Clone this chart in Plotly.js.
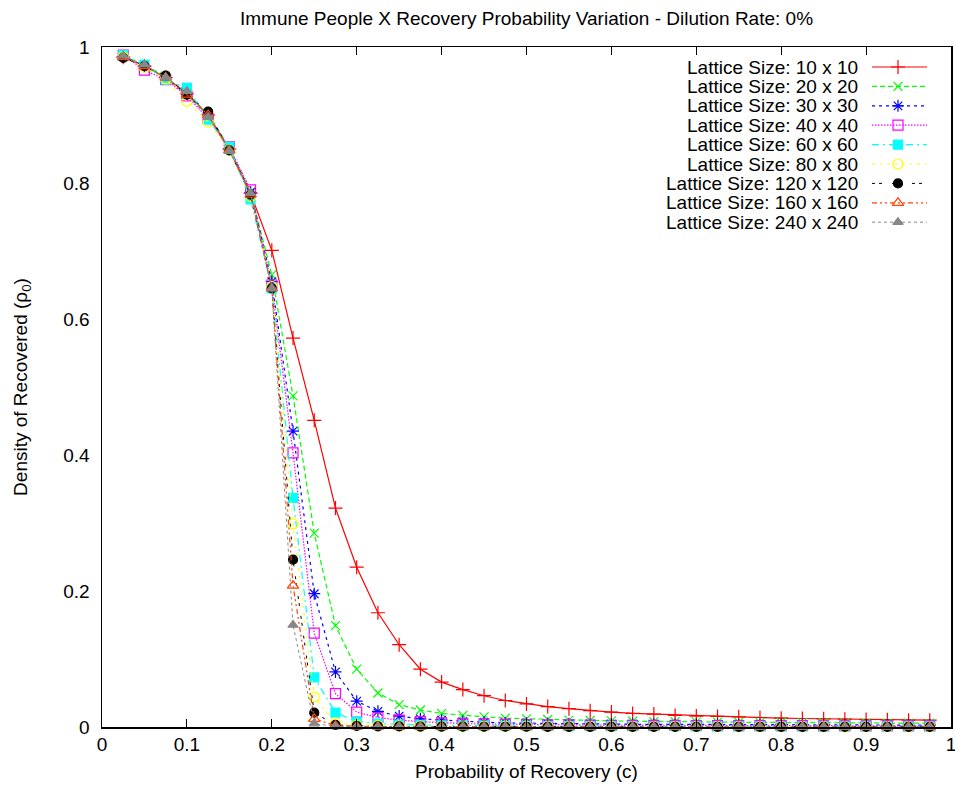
<!DOCTYPE html>
<html>
<head>
<meta charset="utf-8">
<script src="https://cdn.plot.ly/plotly-3.0.1.min.js"></script>
<style>html,body{margin:0;padding:0;background:#fff;}#chart{width:955px;height:789px;}</style>
</head>
<body>
<div id="chart"></div>
<script>
// ---- Data ----
const recoveryProb = [0.025,0.05,0.075,0.1,0.125,0.15,0.175,0.2,0.225,0.25,0.275,0.3,0.325,0.35,0.375,0.4,0.425,0.45,0.475,0.5,0.525,0.55,0.575,0.6,0.625,0.65,0.675,0.7,0.725,0.75,0.775,0.8,0.825,0.85,0.875,0.9,0.925,0.95,0.975];

const seriesNames = ["Lattice Size: 10 x 10","Lattice Size: 20 x 20","Lattice Size: 30 x 30","Lattice Size: 40 x 40","Lattice Size: 60 x 60","Lattice Size: 80 x 80","Lattice Size: 120 x 120","Lattice Size: 160 x 160","Lattice Size: 240 x 240"];

const lattice10 = [0.985,0.972,0.955,0.932,0.900,0.850,0.785,0.701,0.572,0.451,0.322,0.235,0.168,0.121,0.085,0.066,0.055,0.046,0.039,0.034,0.030,0.027,0.024,0.022,0.020,0.019,0.017,0.016,0.0155,0.015,0.014,0.013,0.0125,0.012,0.0115,0.011,0.0105,0.010,0.010];
const lattice20 = [0.987,0.973,0.957,0.930,0.902,0.852,0.787,0.665,0.487,0.285,0.149,0.085,0.050,0.033,0.025,0.020,0.017,0.015,0.013,0.012,0.011,0.010,0.0095,0.009,0.0085,0.008,0.008,0.0075,0.0072,0.007,0.0068,0.0066,0.0064,0.0062,0.006,0.006,0.0058,0.0056,0.0055];
const lattice30 = [0.986,0.972,0.955,0.930,0.900,0.850,0.786,0.655,0.435,0.196,0.081,0.038,0.023,0.016,0.012,0.010,0.008,0.007,0.006,0.0055,0.005,0.0048,0.0045,0.0043,0.004,0.004,0.0038,0.0036,0.0035,0.0034,0.0033,0.0032,0.0031,0.003,0.003,0.003,0.0029,0.0028,0.0028];
const lattice40 = [0.988,0.966,0.952,0.928,0.895,0.853,0.790,0.650,0.403,0.138,0.049,0.022,0.014,0.010,0.008,0.006,0.005,0.0045,0.004,0.0035,0.003,0.003,0.0028,0.0026,0.0025,0.0024,0.0023,0.0022,0.0021,0.002,0.002,0.002,0.0019,0.0018,0.0018,0.0017,0.0017,0.0016,0.0016];
const lattice60 = [0.988,0.974,0.952,0.940,0.893,0.853,0.776,0.645,0.337,0.073,0.021,0.008,0.005,0.0035,0.003,0.0025,0.002,0.002,0.0018,0.0016,0.0015,0.0014,0.0013,0.0012,0.0012,0.0011,0.0011,0.001,0.001,0.001,0.001,0.0009,0.0009,0.0009,0.0008,0.0008,0.0008,0.0008,0.0008];
const lattice80 = [0.986,0.970,0.953,0.920,0.890,0.848,0.780,0.648,0.299,0.044,0.006,0.003,0.002,0.0015,0.0012,0.001,0.001,0.0009,0.0008,0.0008,0.0007,0.0007,0.0007,0.0006,0.0006,0.0006,0.0006,0.0005,0.0005,0.0005,0.0005,0.0005,0.0005,0.0005,0.0004,0.0004,0.0004,0.0004,0.0004];
const lattice120 = [0.984,0.972,0.958,0.930,0.905,0.848,0.783,0.645,0.246,0.021,0.003,0.0015,0.001,0.0008,0.0006,0.0005,0.0005,0.0004,0.0004,0.0004,0.0003,0.0003,0.0003,0.0003,0.0003,0.0003,0.0002,0.0002,0.0002,0.0002,0.0002,0.0002,0.0002,0.0002,0.0002,0.0002,0.0002,0.0002,0.0002];
const lattice160 = [0.985,0.972,0.955,0.930,0.900,0.848,0.783,0.645,0.208,0.012,0.002,0.001,0.0007,0.0005,0.0004,0.0003,0.0003,0.0003,0.0002,0.0002,0.0002,0.0002,0.0002,0.0002,0.0002,0.0002,0.0002,0.0002,0.0002,0.0002,0.0002,0.0002,0.0002,0.0001,0.0001,0.0001,0.0001,0.0001,0.0001];
const lattice240 = [0.987,0.974,0.955,0.935,0.897,0.847,0.785,0.645,0.150,0.005,0.0008,0.0004,0.0003,0.0002,0.0002,0.0002,0.0001,0.0001,0.0001,0.0001,0.0001,0.0001,0.0001,0.0001,0.0001,0.0001,0.0001,0.0001,0.0001,0.0001,0.0001,0.0001,0.0001,0.0001,0.0001,0.0001,0.0001,0.0001,0.0001];

const xTickVals = [0,0.1,0.2,0.3,0.4,0.5,0.6,0.7,0.8,0.9,1];
const xTickText = ["0","0.1","0.2","0.3","0.4","0.5","0.6","0.7","0.8","0.9","1"];
const yTickVals = [0,0.2,0.4,0.6,0.8,1];
const yTickText = ["0","0.2","0.4","0.6","0.8","1"];

// ---- Styles ----
const allSeries = [lattice10,lattice20,lattice30,lattice40,lattice60,lattice80,lattice120,lattice160,lattice240];
const styles = [
  {color:"#ff0000", dash:"solid",              symbol:"cross-thin-open",    size:10, lw:1.2},
  {color:"#00ff00", dash:"5px,3px",            symbol:"x-thin-open",        size:9,  lw:1.2},
  {color:"#0000ff", dash:"3px,4px",            symbol:"asterisk-open",      size:10, lw:1.2},
  {color:"#ff00ff", dash:"1.5px,1.5px",        symbol:"square-open",        size:10, lw:1.2},
  {color:"#00ffff", dash:"7px,4px,2px,4px",    symbol:"square",             size:9,  lw:1.2},
  {color:"#ffff00", dash:"3px,5px,2px,5px",    symbol:"circle-open",        size:10, lw:1.2},
  {color:"#000000", dash:"3px,4px,3px,10px",   symbol:"circle",             size:9,  lw:1.0},
  {color:"#ff4500", dash:"5px,3px,2px,3px,2px,3px", symbol:"triangle-up-open", size:10, lw:1.2},
  {color:"#888888", dash:"3px,3px",            symbol:"triangle-up",        size:9,  lw:1.0}
];

const FONT = "Liberation Sans, Arial, Helvetica, sans-serif";
const FS = 19;
const traces = [];
allSeries.forEach((ys, i) => {
  const s = styles[i];
  traces.push({
    type:"scatter", mode:"lines+markers", name:seriesNames[i],
    x: recoveryProb, y: ys, xaxis:"x", yaxis:"y",
    line:{color:s.color, width:s.lw, dash:s.dash},
    marker:{symbol:s.symbol, size:s.size, color:s.color, line:{color:s.color, width:1.2}},
    showlegend:false, cliponaxis:false
  });
});

// ---- Custom gnuplot-style key (pixel coordinates on overlay axes) ----
const keyTextRight = 860, keyLineX = [872, 898, 927], keyTop = 67, keyStep = 19.4;
const annotations = [];
seriesNames.forEach((name, i) => {
  const s = styles[i];
  const yy = keyTop + i*keyStep;
  traces.push({
    type:"scatter", mode:"lines+markers", x:keyLineX, y:[yy,yy,yy],
    xaxis:"x2", yaxis:"y2", hoverinfo:"skip", showlegend:false,
    line:{color:s.color, width:s.lw, dash:s.dash},
    marker:{symbol:s.symbol, size:s.size, color:s.color, opacity:[0,1,0], line:{color:s.color, width:1.2}}
  });
  annotations.push({
    xref:"x2", yref:"y2", x:keyTextRight, y:yy, text:name, showarrow:false,
    xanchor:"right", yanchor:"middle", font:{family:FONT, size:FS, color:"#000"}
  });
});

const layout = {
  width:955, height:789,
  margin:{l:102, r:4, t:47, b:62},
  paper_bgcolor:"#fff", plot_bgcolor:"#fff",
  font:{family:FONT, size:FS, color:"#000"},
  title:{text:"Immune People X Recovery Probability Variation - Dilution Rate: 0%", font:{family:FONT, size:FS, color:"#000"}, x:0.5, xref:"paper", y:1-18/789, yref:"container", yanchor:"middle"},
  xaxis:{range:[0,1], tickmode:"array", tickvals:xTickVals, ticktext:xTickText, ticks:"inside", ticklen:8, tickwidth:1, tickcolor:"#000",
         ticklabeloverflow:"allow", tickfont:{family:FONT, size:FS},
         showline:true, linecolor:"#000", linewidth:1.5, mirror:"allticks", showgrid:false, zeroline:false,
         title:{text:"Probability of Recovery (c)", font:{family:FONT, size:FS}, standoff:10}, automargin:false, fixedrange:true},
  // label axis: transparent outside ticks push labels away from the frame (gnuplot spacing)
  yaxis:{range:[0,1], tickmode:"array", tickvals:yTickVals, ticktext:yTickText, ticks:"outside", ticklen:7, tickwidth:1, tickcolor:"rgba(0,0,0,0)",
         ticklabeloverflow:"allow", tickfont:{family:FONT, size:FS},
         showline:true, linecolor:"#000", linewidth:1.5, mirror:true, showgrid:false, zeroline:false,
         title:{text:"Density of Recovered (ρ<sub>0</sub>)", font:{family:FONT, size:FS}, standoff:30}, automargin:false, fixedrange:true},
  // tick-mark axis: inside ticks on both sides
  yaxis3:{overlaying:"y", anchor:"x", side:"left", range:[0,1], tickmode:"array", tickvals:yTickVals, ticks:"inside", ticklen:8, tickwidth:1, tickcolor:"#000",
          showticklabels:false, showline:false, mirror:"allticks", showgrid:false, zeroline:false, fixedrange:true},
  xaxis2:{overlaying:"x", range:[102, 951], visible:false, anchor:"y2", fixedrange:true},
  yaxis2:{overlaying:"y", range:[727, 47], visible:false, anchor:"x2", fixedrange:true},
  annotations:annotations,
  showlegend:false
};

Plotly.newPlot("chart", traces, layout, {displayModeBar:false, staticPlot:true});
</script>
</body>
</html>
